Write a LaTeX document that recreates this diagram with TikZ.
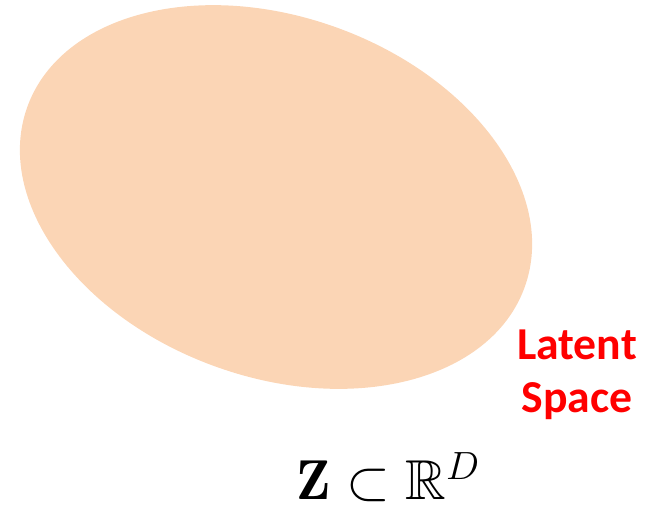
\RequirePackage{fix-cm}
\documentclass[tikz,border=0pt]{standalone}
\usepackage{amsmath,amssymb}
\usepackage{fontspec}
\newfontfamily\labelfont{Carlito}
\usepackage{tikz}
\usetikzlibrary{shapes.geometric, positioning}
\definecolor{latentfill}{HTML}{FBD5B5}
\tikzstyle{space} = [ellipse, fill=latentfill, draw=none, minimum width=10.58cm, minimum height=7.2cm, rotate=-20, inner sep=0pt]
\tikzstyle{tag} = [text=red, font=\labelfont\bfseries\fontsize{26}{30}\selectfont, align=center]

\begin{document}
\begin{tikzpicture}
\useasboundingbox (0,0) rectangle (12.94,-10.12);
\node (latent) [space] at (5.52,-3.94) {};
\node (name) [tag] at (11.54,-7.50) {Latent\\Space};
\node (set) [anchor=base, inner sep=0pt, font=\fontsize{32}{40}\selectfont] at (7.76,-9.99) {$\mathbf{Z}\subset\mathbb{R}^{D}$};
\end{tikzpicture}
\end{document}
